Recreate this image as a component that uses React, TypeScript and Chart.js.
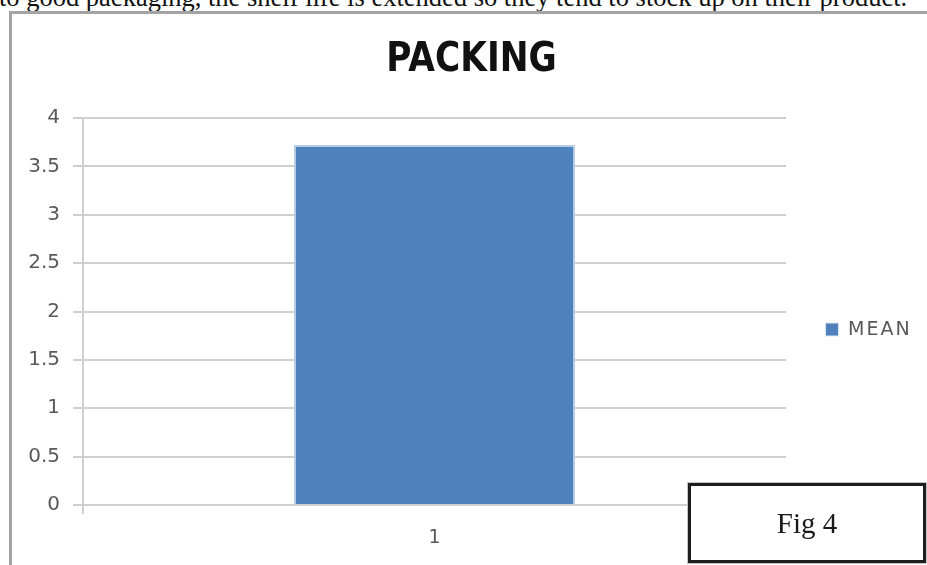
import React, { useEffect, useRef } from "react";
import { Chart, registerables } from "chart.js";

Chart.register(...registerables);

// Chart content
const chartTitle = "PACKING";
const categories = ["1"];
const seriesLabel = "MEAN";
const meanValues = [3.72];
const yMin = 0;
const yMax = 4;
const yStep = 0.5;

const captionText =
  "to good packaging, the shelf life is extended so they tend to stock up on their product.";
const figureLabel = "Fig 4";

const BAR_FILL = "#4f81bd";
const BAR_EDGE = "#b9cde5";
const GRID = "#cfcfcf";
const LABEL = "#595959";
const SANS = "'DejaVu Sans', Verdana, sans-serif";

// Narrow bold title centred over the whole canvas
const narrowTitle = {
  id: "narrowTitle",
  afterDraw(chart: any) {
    const { ctx, width } = chart;
    ctx.save();
    ctx.translate(width / 2 + 2, 47);
    ctx.scale(0.86, 1);
    ctx.font = `bold 40px ${SANS}`;
    ctx.fillStyle = "#111111";
    ctx.textAlign = "center";
    ctx.textBaseline = "middle";
    ctx.fillText(chartTitle, 0, 0);
    ctx.restore();
  },
};

// Legend drawn at the right of the plot area, vertically centred
const sideLegend = {
  id: "sideLegend",
  afterDraw(chart: any) {
    const { ctx, chartArea } = chart;
    const ds = chart.data.datasets[0];
    const x = chartArea.right + 40;
    const y = (chartArea.top + chartArea.bottom) / 2 + 18;
    ctx.save();
    ctx.fillStyle = "#dbe5f1";
    ctx.fillRect(x - 1, y - 7, 14, 14);
    ctx.fillStyle = ds.backgroundColor;
    ctx.fillRect(x, y - 6, 12, 12);
    ctx.fillStyle = LABEL;
    ctx.font = `19px ${SANS}`;
    (ctx as any).letterSpacing = "2px";
    ctx.textBaseline = "middle";
    ctx.textAlign = "left";
    ctx.fillText(ds.label, x + 22, y + 1);
    ctx.restore();
  },
};

function BarChart() {
  const ref = useRef<HTMLCanvasElement | null>(null);

  useEffect(() => {
    if (!ref.current) return;
    const chart = new Chart(ref.current, {
      type: "bar",
      data: {
        labels: categories,
        datasets: [
          {
            label: seriesLabel,
            data: meanValues,
            backgroundColor: BAR_FILL,
            borderColor: BAR_EDGE,
            borderWidth: 2,
            categoryPercentage: 1,
            barPercentage: 0.4,
          },
        ],
      },
      options: {
        animation: false,
        responsive: false,
        layout: { padding: { top: 104, left: 0, right: 141, bottom: 0 } },
        plugins: {
          legend: { display: false },
          tooltip: { enabled: false },
          title: { display: false },
        },
        scales: {
          x: {
            offset: true,
            grid: {
              display: true,
              drawOnChartArea: false,
              tickLength: 9,
              lineWidth: 2,
              color: (c: any) => (c.index === 0 ? GRID : "rgba(0,0,0,0)"),
            },
            border: { display: false },
            ticks: {
              color: LABEL,
              font: { family: SANS, size: 19 },
              padding: 13,
            },
            afterFit(scale: any) {
              scale.height = 60;
            },
          },
          y: {
            min: yMin,
            max: yMax,
            grid: { color: GRID, lineWidth: 2, tickLength: 10 },
            border: { display: true, color: GRID, width: 2 },
            ticks: {
              stepSize: yStep,
              color: LABEL,
              font: { family: SANS, size: 20 },
              padding: 13,
              callback: (v: any) => String(Number(v)),
            },
            afterFit(scale: any) {
              scale.width = 71;
            },
          },
        },
      },
      plugins: [narrowTitle, sideLegend],
    });
    return () => chart.destroy();
  }, []);

  return <canvas ref={ref} width={915} height={551} style={{ display: "block" }} />;
}

export default function App() {
  return (
    <div
      style={{
        position: "absolute",
        left: 0,
        top: 0,
        width: 927,
        height: 565,
        overflow: "hidden",
        background: "#ffffff",
      }}
    >
      <div
        style={{
          position: "absolute",
          left: -1,
          top: -16,
          fontFamily: "'Liberation Serif', 'Times New Roman', serif",
          fontSize: 26.5,
          lineHeight: "26.5px",
          whiteSpace: "nowrap",
          color: "#111111",
        }}
      >
        {captionText}
      </div>
      <div
        style={{
          position: "absolute",
          left: 9,
          top: 11,
          width: 1000,
          height: 1000,
          borderTop: "3px solid #a3a3a3",
          borderLeft: "3px solid #a3a3a3",
        }}
      />
      <div style={{ position: "absolute", left: 12, top: 14 }}>
        <BarChart />
      </div>
      <div
        style={{
          position: "absolute",
          left: 688,
          top: 483,
          width: 238,
          height: 80,
          boxSizing: "border-box",
          border: "3px solid #1e1e1e",
          boxShadow: "0 0 0 1px #c4c4c4",
          background: "#ffffff",
          display: "flex",
          alignItems: "center",
          justifyContent: "center",
          fontFamily: "'Liberation Serif', 'Times New Roman', serif",
          fontSize: 29,
          color: "#1a1a1a",
        }}
      >
        {figureLabel}
      </div>
    </div>
  );
}
